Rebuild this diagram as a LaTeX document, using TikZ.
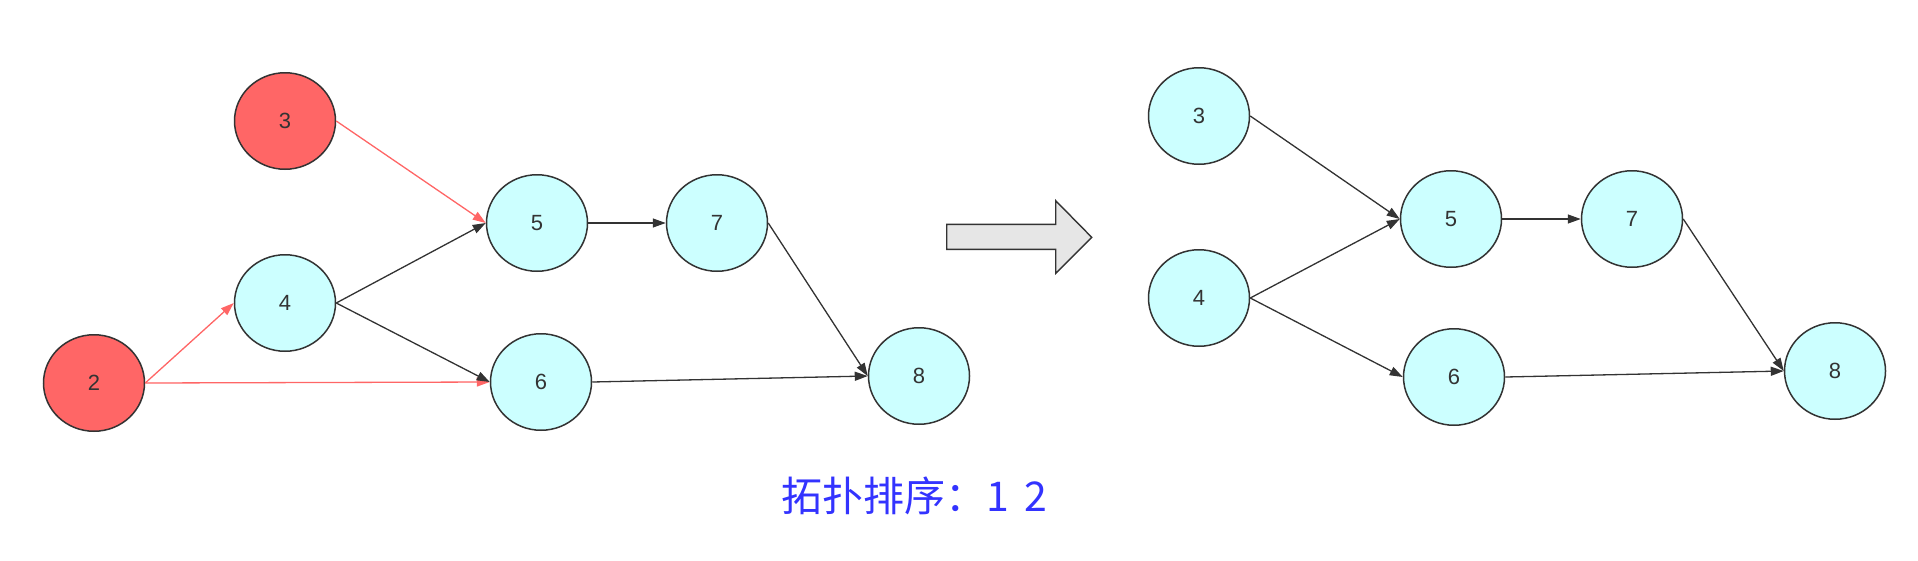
\documentclass[tikz,border=0pt]{standalone}
\usepackage{fontspec}
\setmainfont{Liberation Sans}
\newfontfamily\cjk{Noto Sans CJK SC}
\usetikzlibrary{arrows.meta,shapes.geometric}
\definecolor{redfill}{HTML}{FF6666}
\definecolor{cyanfill}{HTML}{CCFFFF}
\definecolor{darkline}{HTML}{333333}
\definecolor{bluetext}{HTML}{3333FF}
\definecolor{arrowfill}{HTML}{E6E6E6}
\tikzset{
  vnode/.style={ellipse, draw=darkline, line width=1.5pt, minimum width=101pt, minimum height=96.5pt, inner sep=0pt, font=\fontsize{22}{22}\selectfont, text=darkline},
  done/.style={vnode, fill=redfill},
  todo/.style={vnode, fill=cyanfill},
  edge/.style={draw=darkline, fill=darkline, line width=1.3pt, -{Triangle[length=13pt,width=9pt]}},
  redge/.style={draw=redfill, fill=redfill, line width=1.3pt, -{Triangle[length=13pt,width=9pt]}},
}
\begin{document}
\begin{tikzpicture}[x=1pt,y=-1pt]
\useasboundingbox (0,0) rectangle (1918,560);
% left graph
\node[done] (L3) at (285,121) {3};
\node[done] (L2) at (94,383) {2};
\node[todo] (L4) at (285,303) {4};
\node[todo] (L5) at (537,223) {5};
\node[todo] (L6) at (541,382) {6};
\node[todo] (L7) at (717,223) {7};
\node[todo] (L8) at (919,376) {8};
\draw[redge] (L3.east) -- (L5.west);
\draw[redge] (L2.east) -- (L4.west);
\draw[redge] (L2.east) -- (L6.west);
\draw[edge] (L4.east) -- (L5.west);
\draw[edge] (L4.east) -- (L6.west);
\draw[edge] (L5.east) -- (L7.west);
\draw[edge] (L7.east) -- (L8.west);
\draw[edge] (L6.east) -- (L8.west);
% block arrow
\draw[draw=darkline, line width=1.4pt, fill=arrowfill, line join=miter]
  (946.7,224.3) -- (1055.7,224.3) -- (1055.7,200.7) -- (1091.7,237.3)
  -- (1055.7,273.3) -- (1055.7,249.3) -- (946.7,249.3) -- cycle;
% right graph
\node[todo] (R3) at (1199,116) {3};
\node[todo] (R4) at (1199,298) {4};
\node[todo] (R5) at (1451,219) {5};
\node[todo] (R6) at (1454,377) {6};
\node[todo] (R7) at (1632,219) {7};
\node[todo] (R8) at (1835,371) {8};
\draw[edge] (R3.east) -- (R5.west);
\draw[edge] (R4.east) -- (R5.west);
\draw[edge] (R4.east) -- (R6.west);
\draw[edge] (R5.east) -- (R7.west);
\draw[edge] (R7.east) -- (R8.west);
\draw[edge] (R6.east) -- (R8.west);
% caption
\node[text=bluetext, font=\cjk\fontsize{41}{41}\selectfont, inner sep=0pt] (cap) at (914.5,496) {拓扑排序：1\hspace{15pt}2};
\end{tikzpicture}
\end{document}
